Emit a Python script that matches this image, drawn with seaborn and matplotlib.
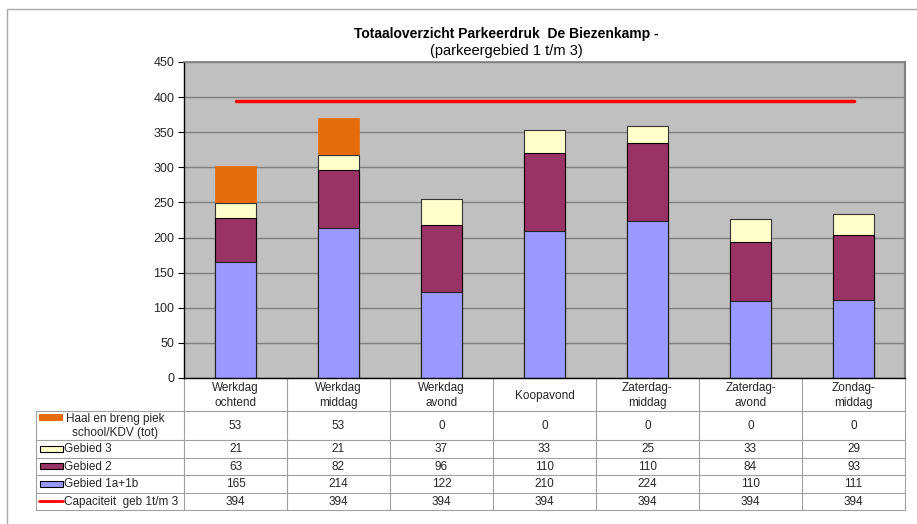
import matplotlib
matplotlib.use("Agg")
import numpy as np
import pandas as pd
import matplotlib.pyplot as plt
from matplotlib.patches import Rectangle
import seaborn as sns

# data
categories = ["Werkdag\nochtend", "Werkdag\nmiddag", "Werkdag\navond", "Koopavond",
              "Zaterdag-\nmiddag", "Zaterdag-\navond", "Zondag-\nmiddag"]
haal_breng = [53, 53, 0, 0, 0, 0, 0]
gebied_3 = [21, 21, 37, 33, 25, 33, 29]
gebied_2 = [63, 82, 96, 110, 110, 84, 93]
gebied_1 = [165, 214, 122, 210, 224, 110, 111]
capaciteit = [394, 394, 394, 394, 394, 394, 394]

series_names = ["Haal en breng piek\nschool/KDV (tot)", "Gebied 3", "Gebied 2",
                "Gebied 1a+1b", "Capaciteit  geb 1t/m 3"]
series_values = [haal_breng, gebied_3, gebied_2, gebied_1, capaciteit]
series_colors = ["#E46C0A", "#FFFFCC", "#993366", "#9999FF", "#FF0000"]

sns.set_theme(style="white")
plt.rcParams["font.family"] = ["Liberation Sans", "DejaVu Sans"]

W, H = 917, 524
fig = plt.figure(figsize=(W / 100, H / 100), dpi=100)

# overlay for table, border, titles (pixel coordinates)
ov = fig.add_axes([0, 0, 1, 1])
ov.set_xlim(0, W)
ov.set_ylim(H, 0)
ov.axis("off")
ov.patch.set_alpha(0)

# main chart area
x0, x1, ytop, ybot = 184, 905, 62, 378
ax = fig.add_axes([x0 / W, (H - ybot) / H, (x1 - x0) / W, (ybot - ytop) / H])

df = pd.DataFrame({"cat": categories, "g1": gebied_1, "g2": gebied_2,
                   "g3": gebied_3, "hb": haal_breng})
df["c1"] = df["g1"]
df["c2"] = df["c1"] + df["g2"]
df["c3"] = df["c2"] + df["g3"]
df["c4"] = df["c3"] + df["hb"]

# stacked bars drawn from the top down
sns.barplot(data=df, x="cat", y="c4", color=series_colors[0], width=0.4,
            edgecolor=series_colors[0], linewidth=0.5, saturation=1, ax=ax)
sns.barplot(data=df, x="cat", y="c3", color=series_colors[1], width=0.4,
            edgecolor="#333333", linewidth=0.8, saturation=1, ax=ax)
sns.barplot(data=df, x="cat", y="c2", color=series_colors[2], width=0.4,
            edgecolor="black", linewidth=0.8, saturation=1, ax=ax)
sns.barplot(data=df, x="cat", y="c1", color=series_colors[3], width=0.4,
            edgecolor="#222222", linewidth=0.8, saturation=1, ax=ax)
sns.lineplot(x=np.arange(len(categories)), y=capaciteit, color=series_colors[4],
             linewidth=2.5, ax=ax)

ax.set_facecolor("#C0C0C0")
ax.set_xlim(-0.5, len(categories) - 0.5)
ax.set_ylim(0, 450)
ax.set_yticks(np.arange(0, 451, 50))
ax.yaxis.grid(True, color="#808080", linewidth=1)
ax.set_axisbelow(True)
ax.set_xticks([])
ax.set_xlabel("")
ax.set_ylabel("")
ax.tick_params(axis="y", labelsize=9, length=4, width=0.8, color="black",
               left=True, pad=3)
for s in ["left", "bottom"]:
    ax.spines[s].set_color("black")
    ax.spines[s].set_linewidth(1)
ax.spines["top"].set_color("#808080")
ax.spines["right"].set_color("#808080")
ax.spines["right"].set_linewidth(1.5)

# outer border (top / left)
ov.plot([7, 7], [9, H], color="#A8A8A8", lw=1)
ov.plot([7, W], [9, 9], color="#A8A8A8", lw=1)

# titles
ov.text(506, 34, "Totaaloverzicht Parkeerdruk  De Biezenkamp -", ha="center",
        va="center", fontsize=10, fontweight="bold", color="black")
ov.text(506, 51, "(parkeergebied 1 t/m 3)", ha="center", va="center",
        fontsize=10.5, color="black")

# data table
lc = "#A0A0A0"
fs = 8.5
ncol = len(categories)
cw = (x1 - x0) / ncol
xl = 35.5
rows_y = [378, 411, 440, 457.5, 475, 492.5, 510]

for i in range(ncol + 1):
    ov.plot([x0 + i * cw] * 2, [rows_y[0], rows_y[-1]], color=lc, lw=0.8)
ov.plot([xl, xl], [rows_y[1], rows_y[-1]], color=lc, lw=0.8)
for y in rows_y[1:]:
    ov.plot([xl, x1], [y, y], color=lc, lw=0.8)

for i, c in enumerate(categories):
    ov.text(x0 + (i + 0.5) * cw, (rows_y[0] + rows_y[1]) / 2 + 1, c,
            ha="center", va="center", fontsize=fs, linespacing=1.25)

for r, (name, vals, col) in enumerate(zip(series_names, series_values, series_colors)):
    yc = (rows_y[r + 1] + rows_y[r + 2]) / 2
    for i, v in enumerate(vals):
        ov.text(x0 + (i + 0.5) * cw, yc + 0.5, str(v), ha="center", va="center",
                fontsize=fs)
    if r == 0:
        ov.add_patch(Rectangle((39, 414), 24, 6.5, facecolor=col, edgecolor="none"))
        ov.text(115, yc + 0.5, name, ha="center", va="center", fontsize=fs,
                linespacing=1.2)
    elif r == len(series_names) - 1:
        ov.plot([39, 63], [yc, yc], color=col, lw=2)
        ov.text(64, yc + 0.5, name, ha="left", va="center", fontsize=fs)
    else:
        ov.add_patch(Rectangle((39.5, yc - 3), 23, 6, facecolor=col,
                               edgecolor="black", lw=0.8))
        ov.text(64, yc + 0.5, name, ha="left", va="center", fontsize=fs)

fig.savefig("out.png", dpi=100, facecolor="white")
